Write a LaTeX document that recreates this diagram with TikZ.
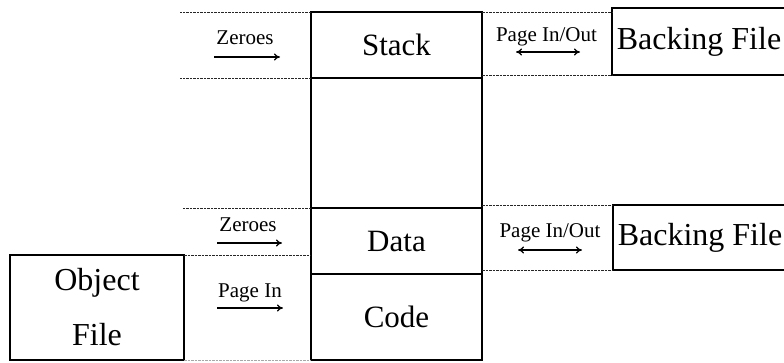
\documentclass[tikz,border=0pt]{standalone}
\usepackage{fontspec}
\setmainfont{Liberation Serif}
\usetikzlibrary{positioning,arrows.meta}

\colorlet{box edge}{black!100}
\colorlet{rule edge}{black!85}
\tikzset{
  region/.style={draw=box edge, line width=1.6pt, minimum width=171pt, inner sep=0pt, outer sep=0pt, font=\fontsize{31}{37}\selectfont},
  filebox/.style={draw=box edge, line width=1.6pt, inner sep=0pt, outer sep=0pt, font=\fontsize{32}{38}\selectfont},
  border/.style={draw=rule edge, line width=0.8pt, dash pattern=on 2.5pt off 1pt},
  tag/.style={anchor=base, inner sep=0pt, font=\fontsize{21}{25}\selectfont},
  flow/.style={line width=1.1pt, -{To[length=6pt,width=7pt]}},
  swap/.style={line width=1.1pt, {To[length=6pt,width=7pt]}-{To[length=6pt,width=7pt]}}
}

\begin{document}
\begin{tikzpicture}[x=1pt,y=-1pt]
  \useasboundingbox (0,0) rectangle (784,362);

  % the address space column
  \node[region, minimum height=66pt] (stack) at (396.5,45) {Stack};
  \node[region, minimum height=130pt, below=0pt of stack] (gap) {};
  \node[region, minimum height=66pt, below=0pt of gap] (data) {Data};
  \node[region, minimum height=86pt, below=0pt of data] (code) {Code};

  \node[filebox, minimum width=174pt, minimum height=67pt, anchor=north west] (back1) at (612,8) {Backing File};
  \node[filebox, minimum width=174pt, minimum height=65pt, anchor=north west] (back2) at (613,205) {Backing File};
  \node[filebox, font=\fontsize{32}{55}\selectfont, align=center, minimum width=174pt, minimum height=105pt, anchor=north west] (obj) at (10,255) {Object\\File};

  \draw[border] (stack.north west) -- ++(-131,0);
  \draw[border] (stack.south west) -- ++(-131,0);
  \draw[border] (stack.north east) -- (back1.north west |- stack.north east);
  \draw[border] (back1.south west -| stack.east) -- (back1.south west);
  \draw[border] (data.north west) -- ++(-128,0);
  \draw[border] (obj.north east) -- (obj.north east -| data.west);
  \draw[border, draw=rule edge!40] (obj.south east) -- (code.south west);
  \draw[border] (back2.north west -| data.east) -- (back2.north west);
  \draw[border] (back2.south west -| data.east) -- (back2.south west);

  \node[tag] (zeroes1) at (245,44) {Zeroes};
  \node[tag] (pageio1) at (546.5,41) {Page In/Out};
  \node[tag] (zeroes2) at (248,231) {Zeroes};
  \node[tag] (pageio2) at (550,237) {Page In/Out};
  \node[tag] (pagein) at (250,297) {Page In};

  \coordinate (z1a) at (214,57);  \coordinate (z1b) at (280,57);
  \coordinate (p1a) at (516,52);  \coordinate (p1b) at (580,52);
  \coordinate (z2a) at (217,243); \coordinate (z2b) at (282,243);
  \coordinate (p2a) at (518,250); \coordinate (p2b) at (582,250);
  \coordinate (pia) at (217,308); \coordinate (pib) at (283,308);

  \draw[flow] (z1a) -- (z1b);
  \draw[swap] (p1a) -- (p1b);
  \draw[flow] (z2a) -- (z2b);
  \draw[swap] (p2a) -- (p2b);
  \draw[flow] (pia) -- (pib);
\end{tikzpicture}
\end{document}
